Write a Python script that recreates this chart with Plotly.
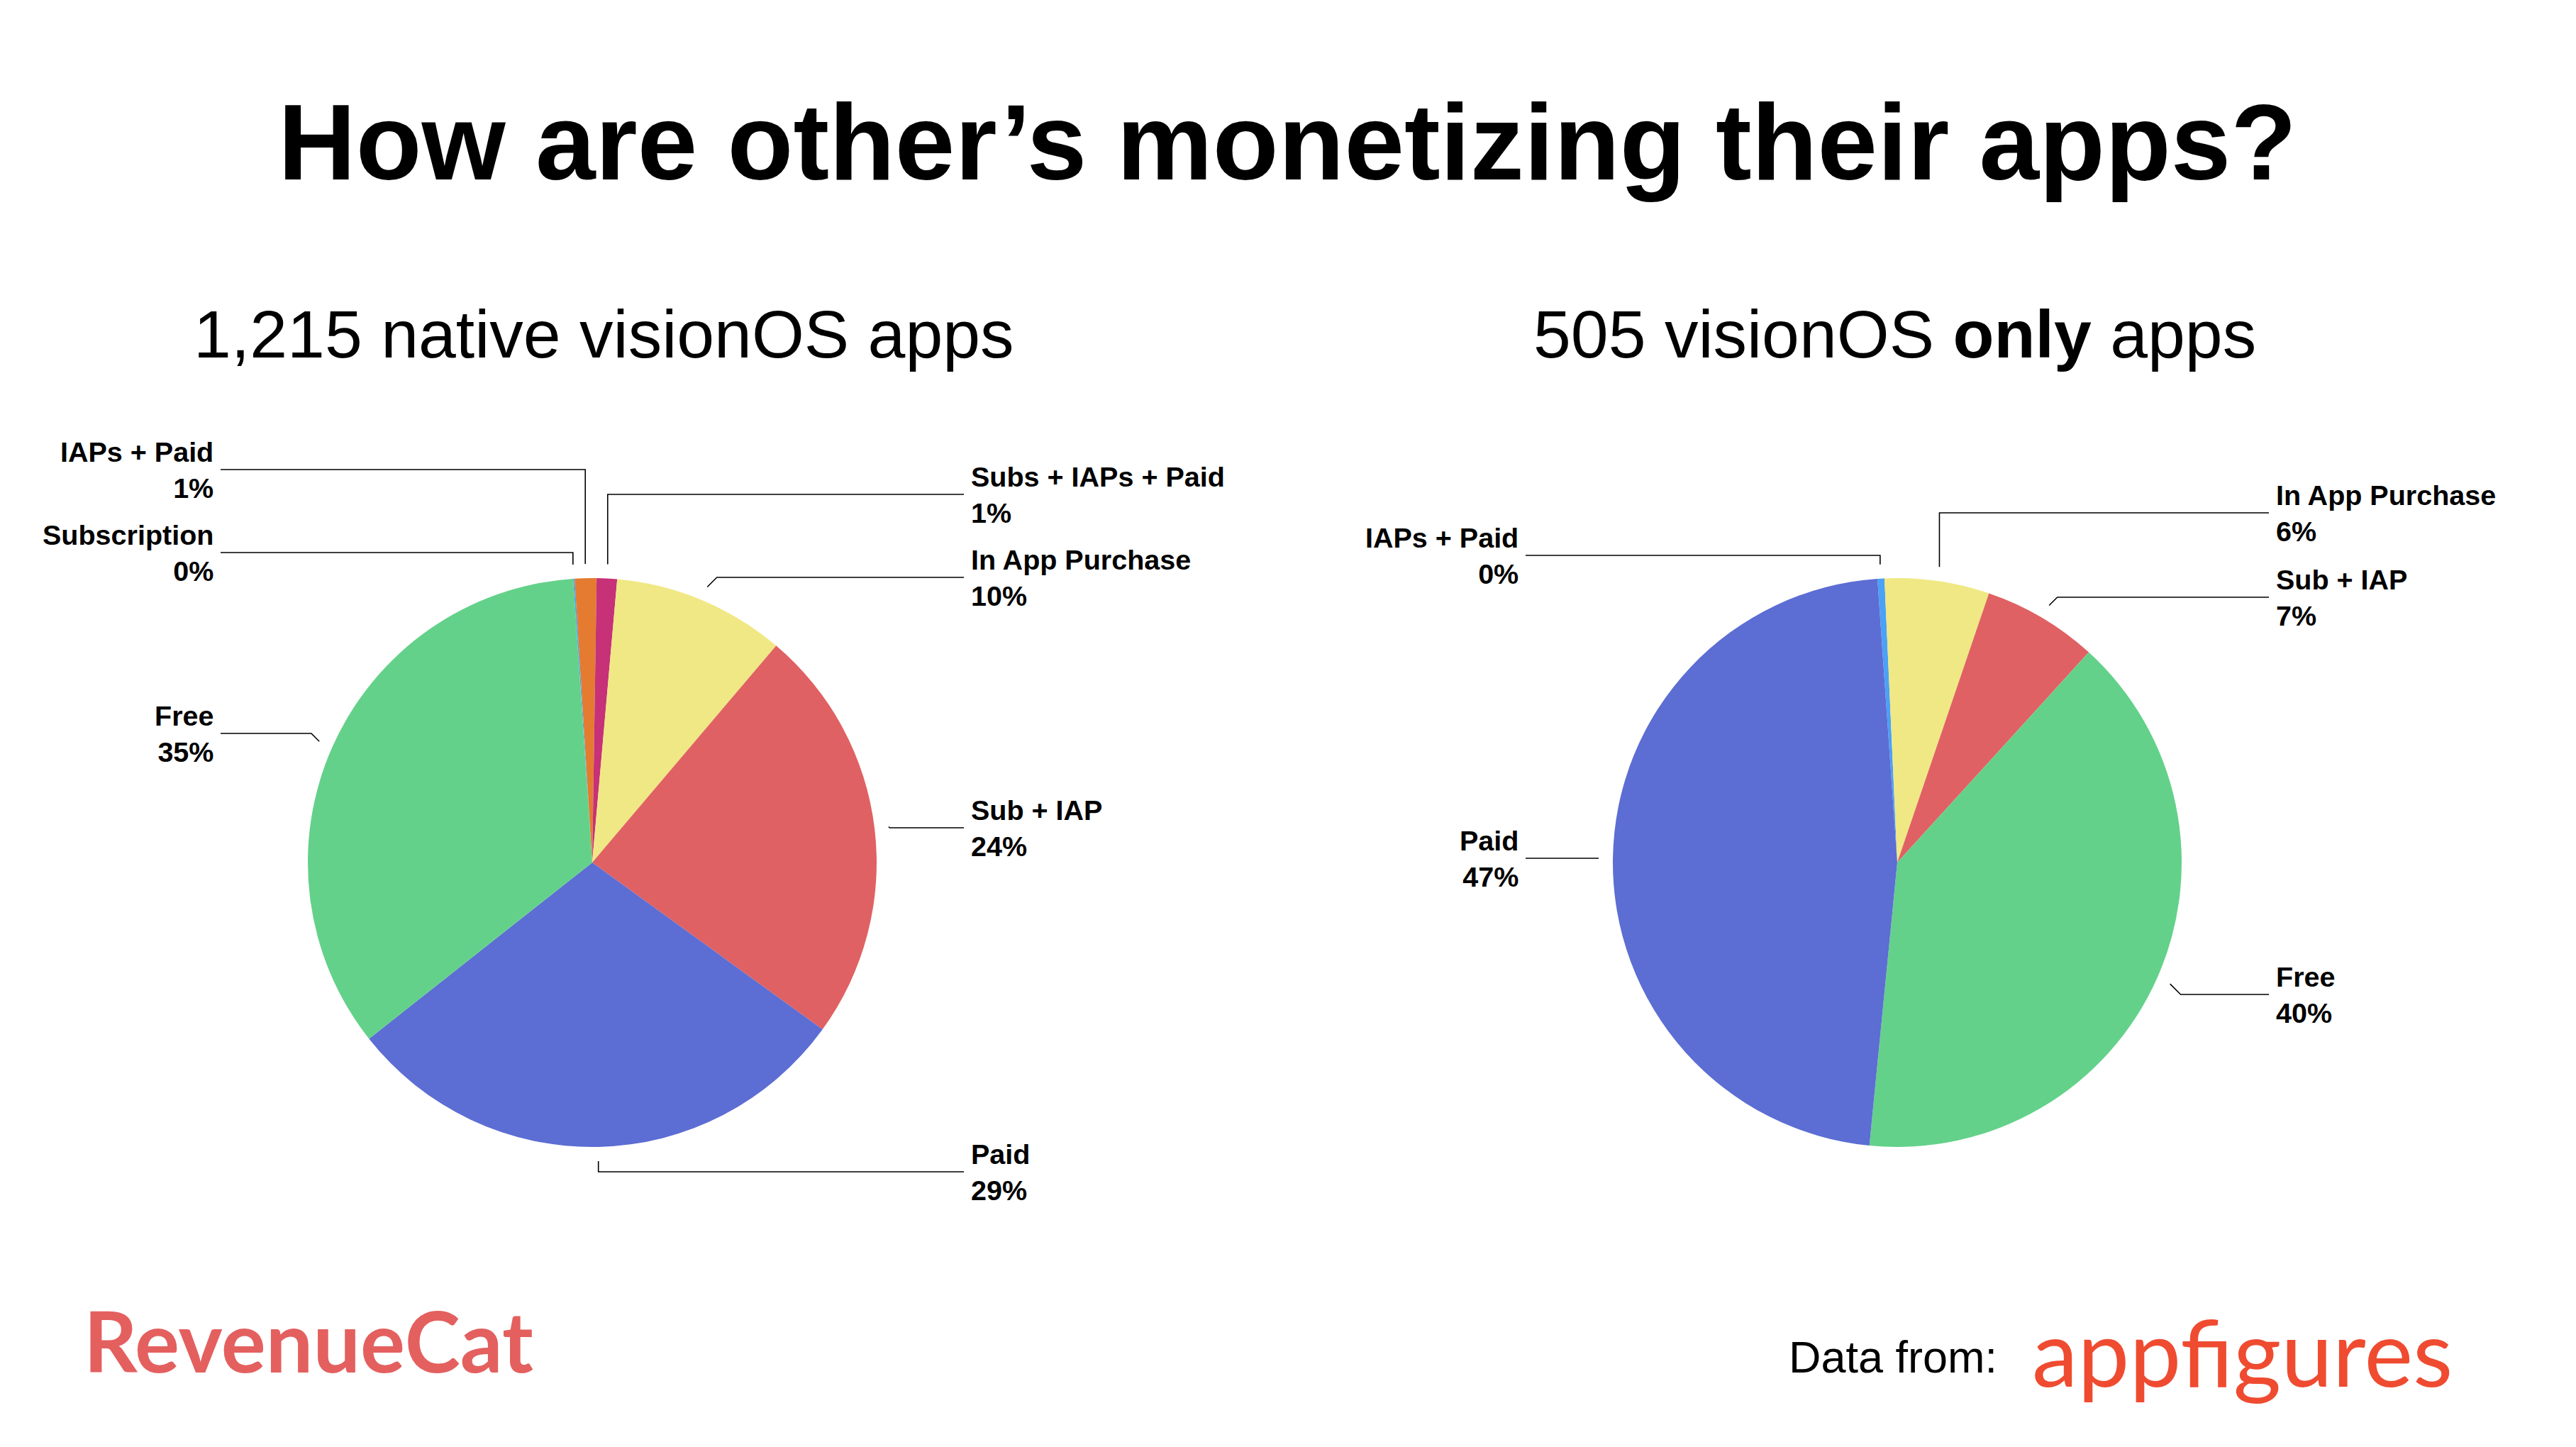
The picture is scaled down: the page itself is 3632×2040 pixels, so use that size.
import math

import plotly.graph_objects as go

W, H = 3632, 2040

# 1,215 native visionOS apps, slices in clockwise order (app counts)
native_labels = ['Subscription', 'IAPs + Paid', 'Subs + IAPs + Paid', 'In App Purchase',
                 'Sub + IAP', 'Paid', 'Free']
native_counts = [1, 15, 14, 119, 289, 357, 420]

# 505 visionOS only apps, slices in clockwise order (app counts)
only_labels = ['IAPs + Paid', 'In App Purchase', 'Sub + IAP', 'Free', 'Paid']
only_counts = [2, 30, 33, 201, 239]

colors = {
    'Subscription': '#4BA1F5',
    'IAPs + Paid': '#E47B31',
    'Subs + IAPs + Paid': '#C63177',
    'In App Purchase': '#F0E884',
    'Sub + IAP': '#E06163',
    'Paid': '#5C6DD3',
    'Free': '#64D18A',
}

# layout of the two pies (pixels) and where each callout label sits vertically
RADIUS = 401
GAP = 20
pies = [
    dict(labels=native_labels, values=native_counts, cx=835, cy=1216, rotation=-3.85,
         label_y=[779, 662, 697, 814, 1167, 1652, 1034],
         colors=[colors[l] for l in native_labels]),
    dict(labels=only_labels, values=only_counts, cx=2675, cy=1216, rotation=-4.0,
         label_y=[783, 723, 842, 1402, 1210],
         colors=['#4BA1F5'] + [colors[l] for l in only_labels[1:]]),
]

LABEL_FONT = dict(family='Liberation Sans', size=39.5, color='black', weight='bold')

fig = go.Figure()
annotations = []
line_x, line_y = [], []

for p in pies:
    fig.add_trace(go.Pie(
        labels=p['labels'], values=p['values'],
        marker=dict(colors=p['colors'], line=dict(width=0)),
        sort=False, direction='clockwise', rotation=p['rotation'],
        textinfo='none', hoverinfo='label+percent', showlegend=False,
        domain=dict(x=[(p['cx'] - RADIUS) / W, (p['cx'] + RADIUS) / W],
                    y=[1 - (p['cy'] + RADIUS) / H, 1 - (p['cy'] - RADIUS) / H]),
    ))

    total = sum(p['values'])
    cum = 0
    for lab, v, ly in zip(p['labels'], p['values'], p['label_y']):
        mid = math.radians(p['rotation'] + 360 * (cum + v / 2) / total)
        cum += v
        s, c = math.sin(mid), math.cos(mid)
        sx = p['cx'] + (RADIUS + GAP) * s
        sy = p['cy'] - (RADIUS + GAP) * c
        side = 1 if s >= 0 else -1
        if abs(s) < 0.2:
            ex = sx
        else:
            ex = sx + side * abs(ly - sy)
        lx = p['cx'] + side * 524
        line_x += [sx, ex, lx, None]
        line_y += [sy, ly, ly, None]
        pct = round(100 * v / total)
        annotations.append(dict(
            x=p['cx'] + side * 532, y=ly, xref='x', yref='y',
            text=f'{lab}<br>{pct}%', showarrow=False,
            xanchor='left' if side > 0 else 'right', yanchor='middle',
            align='left' if side > 0 else 'right', font=LABEL_FONT,
        ))

fig.add_trace(go.Scatter(x=line_x, y=line_y, mode='lines',
                         line=dict(color='black', width=1.6),
                         hoverinfo='skip', showlegend=False))

annotations += [
    dict(x=1815, y=200, text='How are other’s monetizing their apps?',
         font=dict(family='Liberation Sans', size=152, color='black', weight='bold')),
    dict(x=851, y=471, text='1,215 native visionOS apps',
         font=dict(family='Liberation Sans', size=95, color='black')),
    dict(x=2671, y=471, text='505 visionOS <b>only</b> apps',
         font=dict(family='Liberation Sans', size=95, color='black')),
    dict(x=116, y=1889, text='<b>RevenueCat</b>', xanchor='left',
         font=dict(family='Lato', size=118, color='#E3605F')),
    dict(x=2520, y=1913, text='Data from:', xanchor='left',
         font=dict(family='Liberation Sans', size=63, color='black')),
    dict(x=2863, y=1905, text='appfigures', xanchor='left',
         font=dict(family='Lato', size=130, color='#EF4B30')),
]
for a in annotations:
    a.setdefault('xref', 'x')
    a.setdefault('yref', 'y')
    a.setdefault('showarrow', False)
    a.setdefault('yanchor', 'middle')

fig.update_layout(
    width=W, height=H,
    margin=dict(l=0, r=0, t=0, b=0),
    paper_bgcolor='white', plot_bgcolor='white',
    xaxis=dict(range=[0, W], visible=False, fixedrange=True),
    yaxis=dict(range=[H, 0], visible=False, fixedrange=True),
    annotations=annotations,
)

fig.write_html('out.html', config={'displayModeBar': False},
               post_script="document.body.style.margin = '0';")
